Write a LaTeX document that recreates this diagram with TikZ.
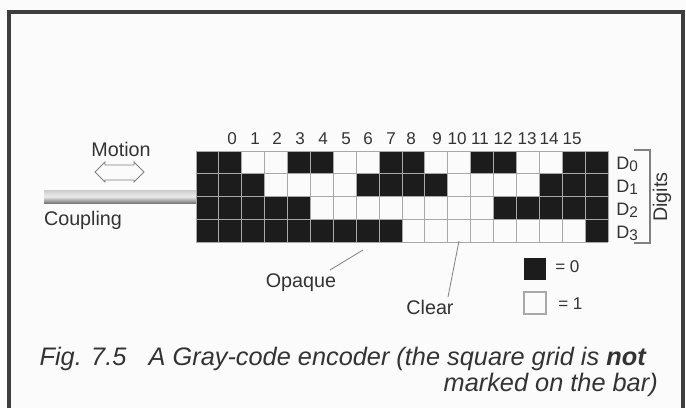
\documentclass[tikz,border=0pt]{standalone}
\usepackage{fontspec}
\setmainfont{Liberation Sans}
\definecolor{ink}{HTML}{1C1C1C}
\definecolor{txt}{HTML}{333333}
\definecolor{gridc}{HTML}{A8A8A8}
\definecolor{page}{HTML}{FBFBFB}
\tikzset{
  px/.style={x=0.75pt,y=-0.75pt},
  lbl/.style={font=\fontsize{14.8pt}{16pt}\selectfont,text=txt,inner sep=0pt},
  num/.style={font=\fontsize{12.8pt}{15pt}\selectfont,text=txt,inner sep=0pt},
  captxt/.style={font=\fontsize{19pt}{21pt}\selectfont\itshape,text=txt,inner sep=0pt},
  leader/.style={draw=gray,line width=0.6pt},
  frameline/.style={draw=ink!85,line width=2.6pt}
}
\begin{document}
\begin{tikzpicture}[px]
\useasboundingbox[fill=page] (0,0) rectangle (686,408);
% frame
\draw[frameline] (9,408) -- (9,12) -- (683,12) -- (683,408);
% coupling rod
\shade[top color=gray!40,bottom color=gray!95!black,middle color=gray!15] (44,190) rectangle (196,203);
% grid cells
\def\cw{22.89}
\foreach \r/\runs in {0/{0/2,4/6,8/10,12/14,16/18},1/{0/3,7/11,15/18},2/{0/5,13/18},3/{0/9,17/18}}{
  \foreach \a/\b in \runs {
    \fill[ink] ({196+\a*\cw},{151+\r*22.8}) rectangle ({196+\b*\cw},{151+(\r+1)*22.8});
  }
}
\foreach \i in {0,...,18}{ \draw[gridc,line width=0.7pt] ({196+\i*\cw},151) -- ({196+\i*\cw},242.2); }
\foreach \j in {0,...,4}{ \draw[gridc,line width=0.7pt] (196,{151+\j*22.8}) -- (608,{151+\j*22.8}); }
% column numbers
\foreach \n/\x in {0/232,1/255,2/277,3/300,4/323,5/346,6/368,7/391,8/411,9/437,10/457,11/480,12/503,13/527,14/549,15/572}{
  \node[num,anchor=base] (n\n) at (\x,144) {\n};
}
% digit labels
\foreach \k/\y in {0/169,1/192,2/215,3/238}{
  \node[lbl,anchor=base west,font=\fontsize{13.5pt}{15pt}\selectfont] (d\k) at (616,\y) {D\raisebox{-0.3ex}{\fontsize{11.5pt}{13pt}\selectfont\k}};
}
% bracket
\coordinate (bt) at (634,150);
\coordinate (bb) at (634,243);
\draw[draw=gray,line width=0.8pt] (bt) -- (650,150) -- (650,243) -- (bb);
\node[lbl,rotate=90] (digits) at (662,197) {Digits};
% motion
\node[lbl] (motion) at (121,149) {Motion};
\draw[draw=gray,line width=0.7pt,fill=page] (95,172) -- (105,162) -- (105,165) -- (134,165) -- (134,162) -- (144,172) -- (134,182) -- (134,180) -- (105,180) -- (105,182) -- cycle;
\node[lbl] (coupling) at (83,220) {Coupling};
% labels and leaders
\node[lbl] (opaque) at (301,283) {Opaque};
\coordinate (oq) at (363,250);
\draw[leader] (330,270) -- (oq);
\node[lbl] (clear) at (430,307) {Clear};
\coordinate (cl) at (459,241);
\draw[leader] (448,297) -- (cl);
% key
\node[fill=ink,minimum width=16.5pt,minimum height=16.5pt,inner sep=0pt] (k0) at (535,269) {};
\node[num,anchor=base west] (k0t) at (555,272) {= 0};
\node[draw=gridc,line width=0.8pt,fill=page,minimum width=16.5pt,minimum height=16.5pt,inner sep=0pt] (k1) at (535,303) {};
\node[num,anchor=base west] (k1t) at (558,309) {= 1};
% caption
\node[captxt,anchor=base east] (c1) at (646,365) {Fig. 7.5\hspace{0.6em} A Gray-code encoder (the square grid is \textbf{not}};
\node[captxt,anchor=base east] (c2) at (658,391) {marked on the bar)};
\end{tikzpicture}
\end{document}
